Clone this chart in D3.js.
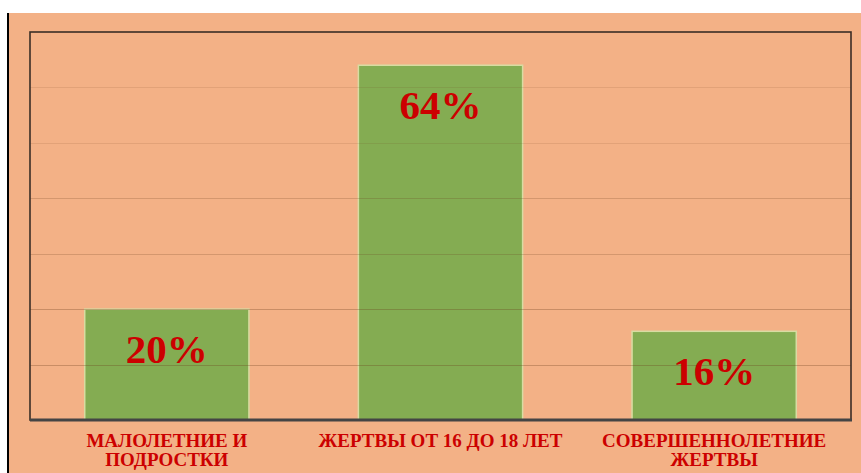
<!DOCTYPE html>
<html><head><meta charset="utf-8">
<script src="https://cdn.jsdelivr.net/npm/d3@7"></script>
<style>html,body{margin:0;padding:0;background:#fff;}svg{display:block;}</style>
</head><body>
<script>
const categories = ["МАЛОЛЕТНИЕ И\nПОДРОСТКИ", "ЖЕРТВЫ ОТ 16 ДО 18 ЛЕТ", "СОВЕРШЕННОЛЕТНИЕ\nЖЕРТВЫ"];
const values = [20, 64, 16];
const valueLabels = ["20%", "64%", "16%"];
const yTicks = [10, 20, 30, 40, 50, 60, 70];

const W = 861, H = 473;
const svg = d3.select("body").append("svg").attr("width", W).attr("height", H);

// background
svg.append("rect").attr("x", 9).attr("y", 13).attr("width", W - 9).attr("height", H - 13).attr("fill", "#f3b186");
svg.append("line").attr("x1", 8).attr("x2", 8).attr("y1", 13).attr("y2", H).attr("stroke", "#000").attr("stroke-width", 2);

const m = {left: 30, right: 851, top: 32, bottom: 420};
const x = d3.scaleBand().domain(categories).range([m.left, m.right]).paddingInner(0.4).paddingOuter(0.2);
const y = d3.scaleLinear().domain([0, 70]).range([m.bottom, m.top]);

// bars
svg.append("g").selectAll("rect").data(values).join("rect")
  .attr("x", (d, i) => x(categories[i]))
  .attr("y", d => y(d))
  .attr("width", x.bandwidth())
  .attr("height", d => y(0) - y(d))
  .attr("fill", "#84ac52")
  .attr("stroke", "#d7dca2")
  .attr("stroke-width", 1.5);

// gridlines (drawn over bars)
svg.append("g").selectAll("line").data(yTicks.filter(t => t < 70)).join("line")
  .attr("x1", m.left).attr("x2", m.right)
  .attr("y1", d => Math.round(y(d)) + 0.5).attr("y2", d => Math.round(y(d)) + 0.5)
  .attr("stroke", "#6b3a1c")
  .attr("stroke-opacity", d => d <= 20 ? 0.3 : (d <= 40 ? 0.22 : 0.12))
  .attr("stroke-width", 1.2);

// frame
svg.append("rect").attr("x", m.left).attr("y", m.top).attr("width", m.right - m.left).attr("height", m.bottom - m.top)
  .attr("fill", "none").attr("stroke", "#3a2e26").attr("stroke-width", 1.6);
svg.append("line").attr("x1", m.left).attr("x2", m.right + 1).attr("y1", m.bottom).attr("y2", m.bottom)
  .attr("stroke", "#444").attr("stroke-width", 3);

// value labels
svg.append("g").selectAll("text").data(values).join("text")
  .attr("x", (d, i) => x(categories[i]) + x.bandwidth() / 2)
  .attr("y", d => y(d) + 54)
  .attr("text-anchor", "middle")
  .attr("font-family", "'Liberation Serif', 'DejaVu Serif', serif")
  .attr("font-weight", "bold")
  .attr("font-size", 41)
  .attr("fill", "#cc0000")
  .text((d, i) => valueLabels[i]);

// category labels
const cg = svg.append("g");
categories.forEach((c, i) => {
  const t = cg.append("text")
    .attr("x", x(c) + x.bandwidth() / 2)
    .attr("y", 447)
    .attr("text-anchor", "middle")
    .attr("font-family", "'Liberation Serif', 'DejaVu Serif', serif")
    .attr("font-weight", "bold")
    .attr("font-size", 19)
    .attr("fill", "#cc0000");
  c.split("\n").forEach((line, j) => {
    t.append("tspan").attr("x", x(c) + x.bandwidth() / 2).attr("dy", j === 0 ? 0 : 19).text(line);
  });
});
</script>
</body></html>
